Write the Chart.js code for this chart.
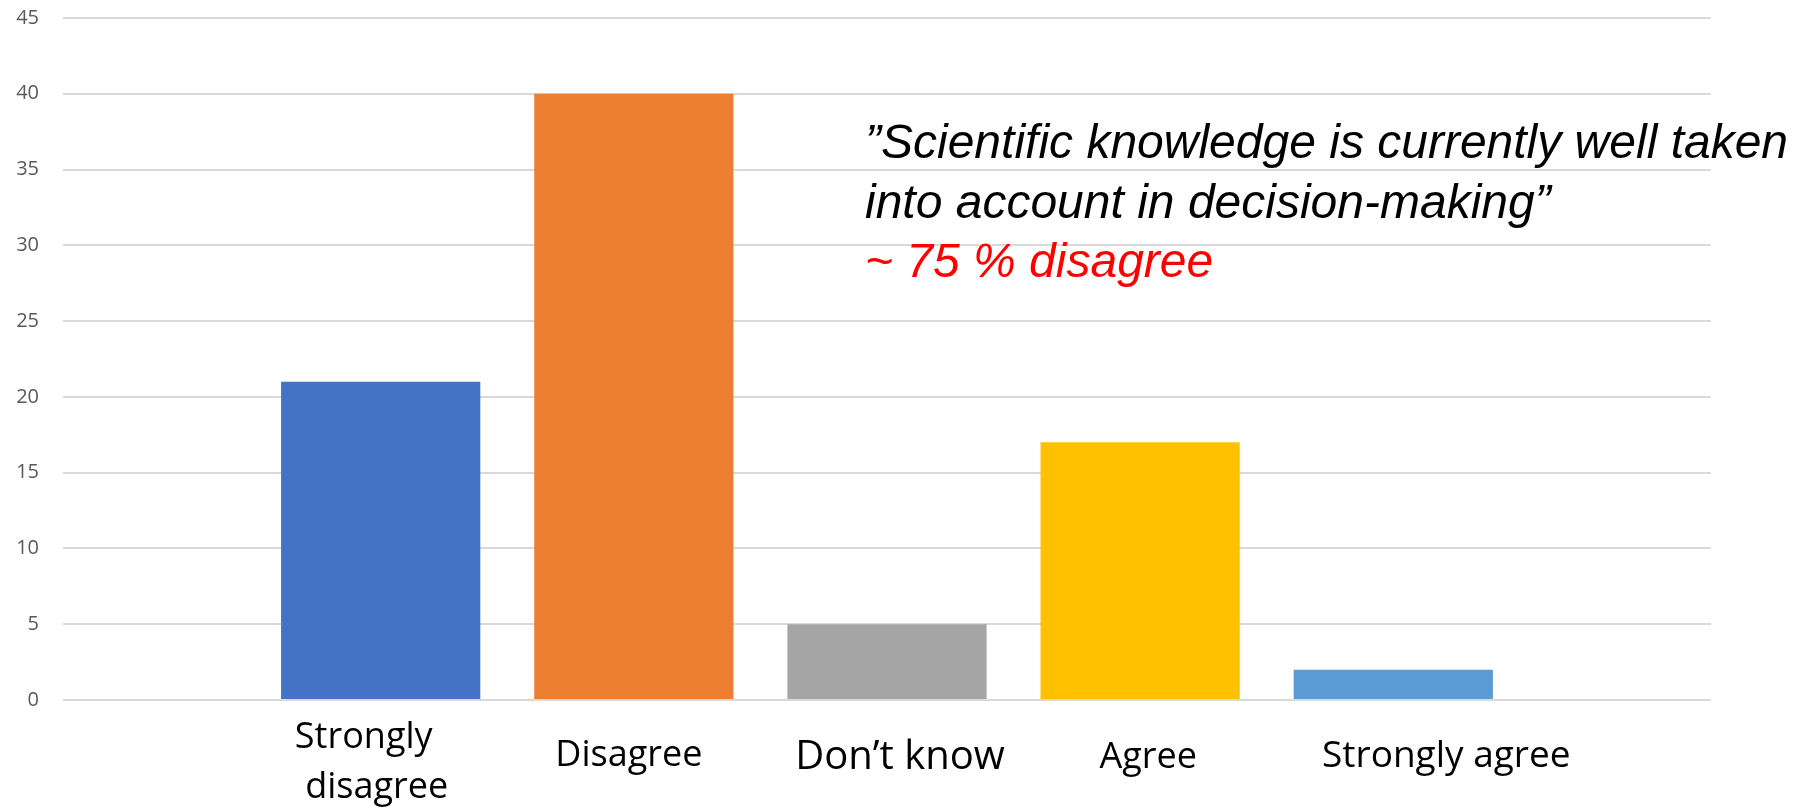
<!DOCTYPE html>
<html>
<head>
<meta charset="utf-8">
<script src="https://cdn.jsdelivr.net/npm/chart.js@4/dist/chart.umd.min.js"></script>
<style>
  body { margin: 0; background: #fff; }
  canvas { display: block; }
</style>
</head>
<body>
<canvas id="canvas" width="1803" height="807"></canvas>
<script>
"use strict";

// 資料
const categories = ['Strongly disagree', 'Disagree', 'Don’t know', 'Agree', 'Strongly agree'];
const categoryLines = [['Strongly', 'disagree'], ['Disagree'], ['Don’t know'], ['Agree'], ['Strongly agree']];
const responses = [21, 40, 5, 17, 2];
const barColors = ['#4472C4', '#ED7D31', '#A5A5A5', '#FFC000', '#5B9BD5'];
const yTickValues = [0, 5, 10, 15, 20, 25, 30, 35, 40, 45];
const quoteLines = ['”Scientific knowledge is currently well taken', 'into account in decision-making”'];
const resultLine = '~ 75 % disagree';

// 類別標籤 (像 PowerPoint 的文字框，位置略有偏移)
const labelStyle = [
  { dx: [-17, -4], base: [748, 798], size: 36 },
  { dx: [-5], base: [766], size: 36 },
  { dx: [13], base: [769], size: 40 },
  { dx: [8], base: [768], size: 36 },
  { dx: [53], base: [767], size: 37 }
];

const textPlugin = {
  id: 'textBoxes',
  afterDraw(chart) {
    const c = chart.ctx;
    const x = chart.scales.x;
    c.save();
    c.fillStyle = '#000';
    c.textAlign = 'center';
    c.textBaseline = 'alphabetic';
    categoryLines.forEach((lines, i) => {
      const st = labelStyle[i];
      c.font = st.size + 'px "Open Sans"';
      lines.forEach((line, j) => {
        c.fillText(line, x.getPixelForValue(i + 1) + st.dx[j], st.base[j]);
      });
    });

    // 引文
    c.textAlign = 'left';
    c.font = 'italic 48px "Liberation Sans", Arial';
    quoteLines.forEach((line, j) => {
      c.fillText(line, 865, 158 + j * 60);
    });
    c.fillStyle = '#FF0000';
    c.fillText(resultLine, 865, 277);
    c.restore();
  }
};

const canvas = document.getElementById("canvas");
const ctx = canvas.getContext("2d");

let myChart = new Chart(ctx, {
  type: 'bar',
  data: {
    datasets: [{
      label: 'Responses',
      data: responses.map((v, i) => ({ x: i + 1, y: v })),
      backgroundColor: barColors,
      borderWidth: 0,
      barPercentage: 0.787,
      categoryPercentage: 1
    }]
  },
  options: {
    responsive: false,
    animation: false,
    devicePixelRatio: 1,
    layout: {
      padding: { left: 16, right: 92, top: 18, bottom: 107 }
    },
    plugins: {
      legend: { display: false },
      tooltip: { enabled: false }
    },
    scales: {
      x: {
        type: 'linear',
        offset: false,
        min: -0.255,
        max: 6.255,
        afterBuildTicks: (axis) => {
          axis.ticks = categories.map((c, i) => ({ value: i + 1 }));
        },
        afterFit: (axis) => { axis.height = 0; },
        ticks: { display: false },
        grid: { display: false, offset: false },
        border: { display: false }
      },
      y: {
        min: 0,
        max: 45,
        afterBuildTicks: (axis) => {
          axis.ticks = yTickValues.map(v => ({ value: v }));
        },
        afterFit: (axis) => {
          axis.width = 47;
          axis.paddingTop = 0;
          axis.paddingBottom = 0;
        },
        ticks: {
          padding: 24,
          color: '#595959',
          font: { family: '"Open Sans"', size: 20 }
        },
        grid: {
          color: '#D9D9D9',
          lineWidth: 2,
          drawTicks: false
        },
        border: { display: false }
      }
    }
  },
  plugins: [textPlugin]
});
</script>
</body>
</html>
